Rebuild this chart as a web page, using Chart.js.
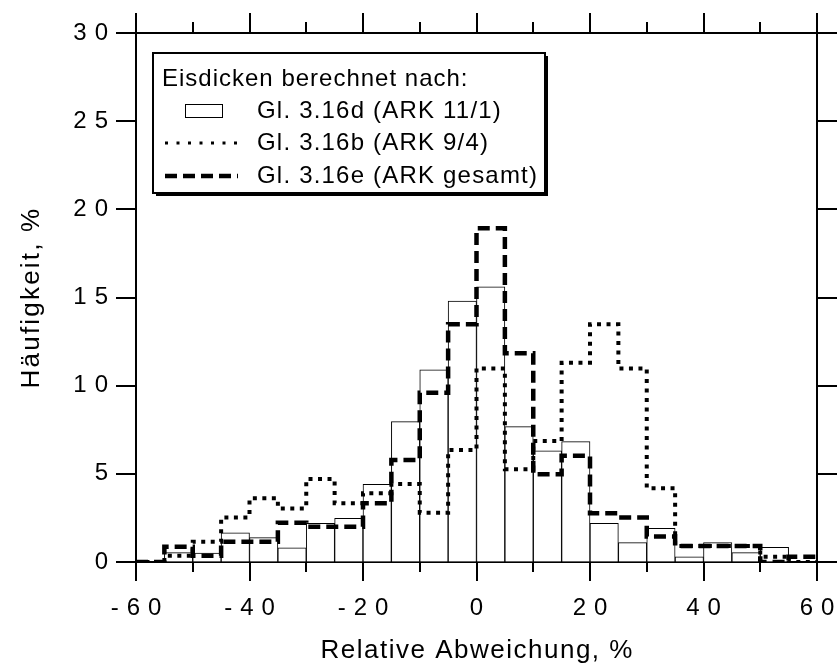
<!DOCTYPE html>
<html>
<head>
<meta charset="utf-8">
<script src="https://cdn.jsdelivr.net/npm/chart.js@4.4.1/dist/chart.umd.min.js"></script>
<style>
  html, body { margin: 0; padding: 0; background: #fff; }
  canvas { display: block; }
</style>
</head>
<body>
<canvas id="c" width="837" height="666"></canvas>
<script>
// Histogram of relative ice-thickness deviations, 5 % bins from -60 to +60.
const binStarts = [-60, -55, -50, -45, -40, -35, -30, -25, -20, -15, -10, -5,
                   0, 5, 10, 15, 20, 25, 30, 35, 40, 45, 50, 55];
const binWidth = 5;

// Gl. 3.16d (ARK 11/1) - outlined bars
const ark11 = [0, 0.53, 0.5, 1.66, 1.38, 0.81, 2.19, 2.48, 4.4, 7.96, 10.9, 14.8,
               15.6, 7.68, 6.31, 6.83, 2.19, 1.1, 1.91, 0.3, 1.1, 0.53, 0.83, 0];
// Gl. 3.16b (ARK 9/4) - dotted steps
const ark94 = [0, 0.35, 1.15, 2.53, 3.61, 3.04, 4.7, 3.33, 3.9, 4.42, 2.8, 6.35,
               10.98, 5.26, 6.86, 11.3, 13.48, 10.98, 4.18, 0.91, 0.91, 0.91, 0.3, 0];
// Gl. 3.16e (ARK gesamt) - dashed steps
const arkAll = [0, 0.87, 0.35, 1.15, 1.15, 2.23, 2.0, 2.0, 3.33, 5.79, 9.6, 13.48,
                18.93, 11.84, 4.97, 6.03, 2.76, 2.53, 1.44, 0.91, 0.91, 0.91, 0, 0.3];

const xTicks = [-60, -40, -20, 0, 20, 40, 60];
const yTicks = [0, 5, 10, 15, 20, 25, 30];

const legendTitle = 'Eisdicken berechnet nach:';
const seriesNames = ['Gl. 3.16d (ARK 11/1)', 'Gl. 3.16b (ARK 9/4)', 'Gl. 3.16e (ARK gesamt)'];

const FONT = "'Liberation Sans', Arial, Helvetica, sans-serif";

function barPoints(vals) {
  return binStarts.map((s, i) => ({ x: s + binWidth / 2, y: vals[i] }));
}
function stepPoints(vals) {
  const pts = binStarts.map((s, i) => ({ x: s, y: vals[i] }));
  pts.push({ x: binStarts[binStarts.length - 1] + binWidth, y: vals[vals.length - 1] });
  return pts;
}

const DOT = [4, 5.5];
const DASH = [12, 6];

// tick marks: long/short on bottom and top, uniform on left and right
const tickMarks = {
  id: 'tickMarks',
  afterDraw(chart) {
    const { ctx, chartArea: { left, right, top, bottom }, scales: { x, y } } = chart;
    ctx.save();
    ctx.strokeStyle = '#000';
    ctx.lineWidth = 2;
    ctx.beginPath();
    x.ticks.forEach(t => {
      const px = Math.round(x.getPixelForValue(t.value));
      const major = xTicks.includes(t.value);
      ctx.moveTo(px, bottom); ctx.lineTo(px, bottom + (major ? 19 : 10));
      ctx.moveTo(px, top); ctx.lineTo(px, top - (major ? 20 : 11));
    });
    y.ticks.forEach(t => {
      const py = Math.round(y.getPixelForValue(t.value));
      ctx.moveTo(left, py); ctx.lineTo(left - 20, py);
      ctx.moveTo(right, py); ctx.lineTo(right + 20, py);
    });
    ctx.stroke();
    ctx.restore();
  }
};

// letter spacing for tick labels and axis titles
function withSpacing(scale, method, sp, dx) {
  const orig = scale[method];
  scale[method] = function (area) {
    const ctx = this.ctx;
    ctx.save();
    ctx.letterSpacing = sp + 'px';
    ctx.translate(dx, 0);
    orig.call(this, area);
    ctx.restore();
  };
}
const spacedText = {
  id: 'spacedText',
  beforeDraw(chart) {
    const { x, y } = chart.scales;
    if (x && !x._spaced) {
      withSpacing(x, 'drawLabels', 8, 4);
      withSpacing(x, 'drawTitle', 1.5, 0.75);
      x._spaced = true;
    }
    if (y && !y._spaced) {
      withSpacing(y, 'drawLabels', 8, 8);
      withSpacing(y, 'drawTitle', 2.2, 0);
      y._spaced = true;
    }
  }
};

// framed legend box with drop shadow inside the plot
const boxLegend = {
  id: 'boxLegend',
  afterDraw(chart) {
    const ctx = chart.ctx;
    const bx = 153, by = 53, bw = 392, bh = 140;
    ctx.save();
    ctx.fillStyle = '#000';
    ctx.fillRect(bx + 3, by + 3, bw, bh);
    ctx.fillStyle = '#fff';
    ctx.fillRect(bx, by, bw, bh);
    ctx.strokeStyle = '#000';
    ctx.lineWidth = 2;
    ctx.strokeRect(bx, by, bw, bh);

    ctx.fillStyle = '#000';
    ctx.font = '24px ' + FONT;
    ctx.textBaseline = 'middle';
    ctx.textAlign = 'left';
    ctx.letterSpacing = '1px';
    ctx.fillText(legendTitle, 162, 79);
    const rows = [111, 143, 176];
    ctx.letterSpacing = '1.2px';
    rows.forEach((ry, i) => ctx.fillText(seriesNames[i], 257, ry));

    // symbols
    ctx.lineWidth = 1;
    ctx.strokeRect(185.5, rows[0] - 6.5, 37, 13);
    ctx.beginPath();
    ctx.lineWidth = 3;
    ctx.setLineDash([3, 8.5]);
    ctx.moveTo(165, rows[1]); ctx.lineTo(238, rows[1]);
    ctx.stroke();
    ctx.beginPath();
    ctx.lineWidth = 4.5;
    ctx.setLineDash([12, 6]);
    ctx.moveTo(165, rows[2]); ctx.lineTo(238, rows[2]);
    ctx.stroke();
    ctx.restore();
  }
};

const axisFont = { family: FONT, size: 24 };
const titleFont = { family: FONT, size: 26 };
const hiddenTick = { drawOnChartArea: false, drawTicks: true, tickColor: 'rgba(0,0,0,0)' };

new Chart(document.getElementById('c'), {
  data: {
    datasets: [
      {
        type: 'line', label: seriesNames[2], data: stepPoints(arkAll), stepped: true,
        borderColor: '#000', borderWidth: 4.5, borderDash: DASH, pointRadius: 0,
        fill: false, order: 1
      },
      {
        type: 'line', label: seriesNames[1], data: stepPoints(ark94), stepped: true,
        borderColor: '#000', borderWidth: 4, borderDash: DOT, pointRadius: 0,
        fill: false, order: 2
      },
      {
        type: 'bar', label: seriesNames[0], data: barPoints(ark11),
        backgroundColor: '#fff', borderColor: '#000', borderWidth: 1,
        barPercentage: 1, categoryPercentage: 1, order: 3
      }
    ]
  },
  options: {
    responsive: false,
    devicePixelRatio: 1,
    animation: false,
    layout: { padding: 0 },
    plugins: { legend: { display: false }, tooltip: { enabled: false } },
    scales: {
      x: {
        type: 'linear', position: 'bottom', min: -60, max: 60, offset: false,
        ticks: {
          stepSize: 10, autoSkip: false, maxRotation: 0, color: '#000', font: axisFont, padding: 5,
          callback: v => (xTicks.includes(v) ? String(v) : '')
        },
        grid: { ...hiddenTick, tickLength: 27, offset: false },
        border: { color: '#000', width: 2 },
        title: { display: true, text: 'Relative Abweichung, %', color: '#000', font: titleFont, padding: 0 },
        afterFit: s => { s.height = 104; }
      },
      x2: {
        type: 'linear', position: 'top', min: -60, max: 60, offset: false,
        ticks: { display: false, stepSize: 10 },
        grid: { drawOnChartArea: false, drawTicks: false, offset: false },
        border: { color: '#000', width: 2 },
        afterFit: s => { s.height = 33; }
      },
      y: {
        type: 'linear', position: 'left', min: 0, max: 30,
        ticks: {
          stepSize: 5, color: '#000', font: axisFont, padding: 8,
          callback: v => (yTicks.includes(v) ? String(v) : '')
        },
        grid: { ...hiddenTick, tickLength: 20 },
        border: { color: '#000', width: 2 },
        title: { display: true, text: 'Häufigkeit, %', color: '#000', font: titleFont, padding: { top: 16, bottom: 0 } },
        afterFit: s => { s.width = 136; }
      },
      y2: {
        type: 'linear', position: 'right', min: 0, max: 30,
        ticks: { display: false, stepSize: 5 },
        grid: { drawOnChartArea: false, drawTicks: false },
        border: { color: '#000', width: 2 },
        afterFit: s => { s.width = 20; }
      }
    }
  },
  plugins: [spacedText, tickMarks, boxLegend]
});
</script>
</body>
</html>
